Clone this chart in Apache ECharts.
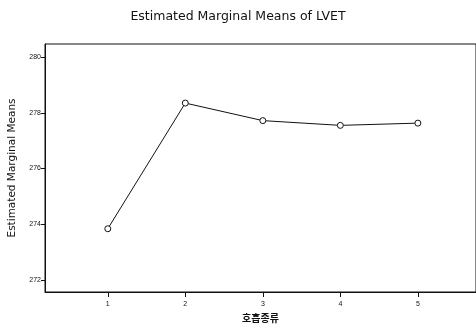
<!DOCTYPE html>
<html><head><meta charset="utf-8">
<script src="https://cdn.jsdelivr.net/npm/echarts@6/dist/echarts.min.js"></script>
<style>html,body{margin:0;padding:0;background:#fff}#c{width:476px;height:328px}</style>
</head><body><div id="c"></div>
<script>
const categories = [1, 2, 3, 4, 5];
const means = [273.84, 278.35, 277.72, 277.55, 277.63];
const yTicks = [272, 274, 276, 278, 280];
const titleText = 'Estimated Marginal Means of LVET';
const xName = '호흡종류';
const yName = 'Estimated Marginal Means';

const chart = echarts.init(document.getElementById('c'));
chart.setOption({
  animation: false,
  title: { text: titleText, left: 'center', top: 5,
    textStyle: { fontFamily: 'DejaVu Sans', fontSize: 12.5, fontWeight: 'normal', color: '#111' } },
  grid: { left: 45, right: 0, top: 44, bottom: 36, show: true, borderColor: '#111', borderWidth: 1,
    containLabel: false, outerBoundsMode: 'none' },
  xAxis: {
    type: 'value', min: 0.19, max: 5.75,
    name: xName, nameLocation: 'middle', nameGap: 20,
    nameTextStyle: { fontFamily: 'Noto Sans CJK KR', fontSize: 10, fontWeight: 'bold', color: '#111' },
    axisLine: { show: true, lineStyle: { color: '#111' } },
    splitLine: { show: false },
    axisTick: { show: true, length: 5, customValues: categories, lineStyle: { color: '#111' } },
    axisLabel: { customValues: categories, fontSize: 7, color: '#111', margin: 9, fontFamily: 'Liberation Sans' }
  },
  yAxis: {
    type: 'value', min: 271.57, max: 280.47,
    name: yName, nameLocation: 'middle', nameGap: 27,
    nameTextStyle: { fontFamily: 'DejaVu Sans', fontSize: 10.5, color: '#111' },
    axisLine: { show: true, lineStyle: { color: '#111' } },
    splitLine: { show: false },
    axisTick: { show: true, length: 4, customValues: yTicks, lineStyle: { color: '#111' } },
    axisLabel: { customValues: yTicks, fontSize: 7, color: '#111', margin: 4, fontFamily: 'Liberation Sans' }
  },
  series: [{
    type: 'line',
    data: categories.map((c, i) => [c, means[i]]),
    symbol: 'circle', symbolSize: 6,
    itemStyle: { color: '#fff', borderColor: '#111', borderWidth: 1 },
    lineStyle: { color: '#111', width: 1 }
  }]
});
</script></body></html>
